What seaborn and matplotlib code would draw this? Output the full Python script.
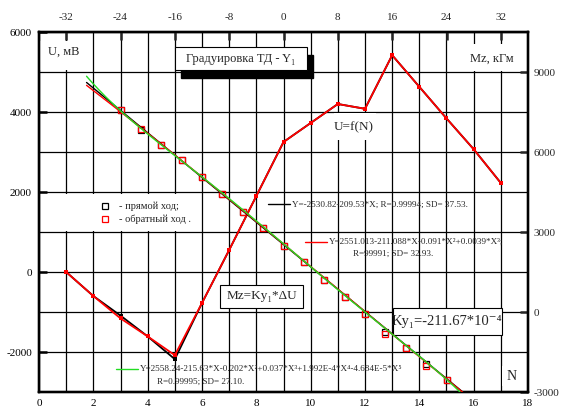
import numpy as np
import pandas as pd
import matplotlib
matplotlib.use("Agg")
import matplotlib.pyplot as plt
from matplotlib.patches import Rectangle
from matplotlib.lines import Line2D
from matplotlib.ticker import FixedLocator, MultipleLocator
import seaborn as sns

# U = f(N): detector output (mV) at each load step N, forward and return pass
n_steps = list(range(1, 18))
u_forward = [0, -600, -1090, -1610, -2180, -775, 550, 1900, 3250, 3725,
             4200, 4080, 5420, 4630, 3840, 3070, 2225]
u_return = [0, -600, -1160, -1610, -2080, -775, 550, 1900, 3250, 3725,
            4200, 4080, 5420, 4630, 3840, 3070, 2225]

# calibration points: moment Mz (kGm) against X on the top scale
calib_x = list(range(-24, 25, 3))
mz_forward = [7590, 6840, 6275, 5690, 5050, 4425, 3760, 3140, 2465, 1890,
              1210, 560, -90, -740, -1340, -1940, -2560]
mz_return = [7590, 6875, 6275, 5690, 5050, 4425, 3760, 3140, 2465, 1890,
             1210, 560, -90, -810, -1340, -2025, -2560]

# regression coefficients, constant term first
fit_linear = [2530.82, -209.53]
fit_cubic = [2551.013, -211.088, -0.091, 0.0039]
fit_quintic = [2558.24, -215.63, -0.202, 0.037, 1.992e-4, -4.684e-5]

bottom_ticks = [0, 2, 4, 6, 8, 10, 12, 14, 16, 18]
top_ticks = [-32, -24, -16, -8, 0, 8, 16, 24, 32]
left_ticks = [-2000, 0, 2000, 4000, 6000]
right_ticks = [-3000, 0, 3000, 6000, 9000]

sns.set_theme(style="white")
plt.rcParams["font.family"] = ["Liberation Serif", "DejaVu Serif"]
plt.rcParams["axes.unicode_minus"] = False

W, H = 561, 408
fig = plt.figure(figsize=(W / 100, H / 100), dpi=100)
ax = fig.add_axes([39 / W, 1 - 392 / H, (528 - 39) / W, (392 - 32) / H])
ax.set_xlim(0, 18)
ax.set_ylim(-3000, 6000)
ax.set_axisbelow(True)

ax.xaxis.set_major_locator(FixedLocator(bottom_ticks))
ax.xaxis.set_minor_locator(MultipleLocator(1))
ax.yaxis.set_major_locator(FixedLocator(left_ticks))
ax.yaxis.set_minor_locator(MultipleLocator(1000))
ax.grid(which="both", color="black", linewidth=0.9)
ax.tick_params(which="major", direction="in", length=6, width=1.8,
               labelsize=8, colors="black")
ax.tick_params(axis="x", which="major", pad=5)
ax.tick_params(axis="y", which="major", pad=5)
ax.tick_params(which="minor", length=0)

ax_r = ax.twinx()
ax_r.set_ylim(-3000, 10500)
ax_r.yaxis.set_major_locator(FixedLocator(right_ticks))
ax_r.tick_params(axis="y", direction="in", length=6, width=1.8,
                 labelsize=8, pad=4)
ax_c = ax_r.twiny()
ax_c.set_xlim(-36, 36)
ax_c.xaxis.set_major_locator(FixedLocator(top_ticks))
ax_c.tick_params(axis="x", direction="in", length=6, width=1.8,
                 labelsize=8, pad=7)
for a in (ax, ax_r, ax_c):
    for s in a.spines.values():
        s.set_linewidth(1.6)
        s.set_color("black")
    a.set_xlabel("")
    a.set_ylabel("")

# U = f(N) curves
df_u = pd.DataFrame({"N": n_steps, "fwd": u_forward, "ret": u_return})
sns.lineplot(data=df_u, x="N", y="fwd", ax=ax, color="black", linewidth=1.3,
             marker="s", markersize=3.5, markeredgewidth=0, zorder=3)
sns.lineplot(data=df_u, x="N", y="ret", ax=ax, color="red", linewidth=1.3,
             marker="s", markersize=3.5, markeredgewidth=0, zorder=3)

# calibration points
df_c = pd.DataFrame({"X": calib_x, "fwd": mz_forward, "ret": mz_return})
sns.lineplot(data=df_c, x="X", y="fwd", ax=ax_c, linestyle="", marker="s",
             markersize=4.5, markerfacecolor="none", markeredgecolor="black",
             markeredgewidth=0.9, zorder=3)
sns.lineplot(data=df_c, x="X", y="ret", ax=ax_c, linestyle="", marker="s",
             markersize=4.5, markerfacecolor="none", markeredgecolor="red",
             markeredgewidth=0.9, zorder=3)

# regression curves
xs = np.linspace(-29, 30, 300)
P = np.polynomial.polynomial.polyval
sns.lineplot(x=xs, y=P(xs, fit_linear), ax=ax_c, color="black", linewidth=1.0, zorder=4)
sns.lineplot(x=xs, y=P(xs, fit_cubic), ax=ax_c, color="red", linewidth=1.0, zorder=4)
sns.lineplot(x=xs, y=P(xs, fit_quintic), ax=ax_c, color="#22dd22", linewidth=1.0, zorder=4)
ax_c.set_xlim(-36, 36)
ax_c.set_ylim(-3000, 10500)
ax_c.set_xlabel("")
ax_c.set_ylabel("")

# axis captions on white patches
def white(x0, x1, y0, y1):
    ax.add_patch(Rectangle((x0, y0), x1 - x0, y1 - y0, facecolor="white",
                           edgecolor="none", zorder=2))

white(0.05, 1.85, 5050, 5780)
ax.text(0.9, 5508, "U, мВ", ha="center", va="center", fontsize=9, zorder=5)
white(15.1, 17.95, 5020, 5700)
ax.text(16.65, 5330, "Mz, кГм", ha="center", va="center", fontsize=9, zorder=5)
white(10.85, 12.4, 3300, 3975)
ax.text(11.6, 3625, "U=f(N)", ha="center", va="center", fontsize=9.5, zorder=5)
white(17.05, 17.75, -2850, -2350)
ax.text(17.39, -2617, "N", ha="center", va="center", fontsize=10, zorder=5)

# title box with drop shadow
ax.add_patch(Rectangle((5.22, 4850), 4.86, 575, facecolor="black",
                       edgecolor="black", zorder=4))
ax.add_patch(Rectangle((5.0, 5050), 4.86, 575, facecolor="white",
                       edgecolor="black", linewidth=0.8, zorder=4))
ax.text(7.43, 5330, "Градуировка ТД - Y₁", ha="center", va="center",
        fontsize=9, zorder=5)

# relation boxes
ax.add_patch(Rectangle((6.66, -900), 3.06, 575, facecolor="white",
                       edgecolor="black", linewidth=0.8, zorder=4))
ax.text(8.19, -612, "Mz=Ky₁*ΔU", ha="center", va="center", fontsize=9.5, zorder=5)
ax.add_patch(Rectangle((13.03, -1575), 4.01, 675, facecolor="white",
                       edgecolor="black", linewidth=0.8, zorder=4))
ax.text(15.03, -1237, "Ky₁=-211.67*10⁻⁴", ha="center", va="center",
        fontsize=10.5, zorder=5)

# legend
white(0.1, 5.85, 1030, 1950)
handles = [Line2D([], [], linestyle="", marker="s", markersize=4.5,
                  markerfacecolor="none", markeredgecolor="black", markeredgewidth=0.9),
           Line2D([], [], linestyle="", marker="s", markersize=4.5,
                  markerfacecolor="none", markeredgecolor="red", markeredgewidth=0.9)]
leg = ax.legend(handles, ["- прямой ход;", "- обратный ход ."], loc="center left",
                bbox_to_anchor=(1.92, 1475), bbox_transform=ax.transData,
                frameon=False, fontsize=7.5, handlelength=0.8, handletextpad=1.0,
                labelspacing=0.35, borderpad=0.4)
leg.set_zorder(6)

# regression captions
fs = 6.6
ax.plot([8.43, 9.24], [1692, 1692], color="black", linewidth=1.0, zorder=5)
ax.text(9.3, 1692, "Y=-2530.82-209.53*X; R=0.99994; SD= 37.53.",
        ha="left", va="center", fontsize=fs, zorder=5)
ax.plot([9.79, 10.59], [757, 757], color="red", linewidth=1.0, zorder=5)
ax.text(10.67, 757, "Y=2551.013-211.088*X-0.091*X²+0.0039*X³;",
        ha="left", va="center", fontsize=fs, zorder=5)
ax.text(11.57, 467, "R=99991; SD= 32.93.", ha="left", va="center",
        fontsize=fs, zorder=5)
ax.plot([2.83, 3.63], [-2432, -2432], color="#22dd22", linewidth=1.0, zorder=5)
ax.text(3.72, -2432,
        "Y=2558.24-215.63*X-0.202*X²+0.037*X³+1.992E-4*X⁴-4.684E-5*X⁵",
        ha="left", va="center", fontsize=fs, zorder=5)
ax.text(4.35, -2757, "R=0.99995; SD= 27.10.", ha="left", va="center",
        fontsize=fs, zorder=5)

fig.savefig("out.png", dpi=100)
